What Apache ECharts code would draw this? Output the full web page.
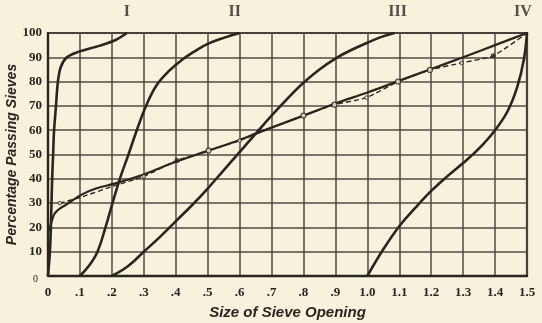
<!DOCTYPE html>
<html>
<head>
<meta charset="utf-8">
<script src="https://cdn.jsdelivr.net/npm/echarts@6/dist/echarts.min.js"></script>
<style>
  html, body { margin: 0; padding: 0; background: #f6f2db; }
  #chart { width: 542px; height: 323px; }
</style>
</head>
<body>
<div id="chart"></div>
<script>
// Sieve grading curves: percentage passing vs. size of sieve opening
const curveI_x = [0, 0.006, 0.009, 0.011, 0.013, 0.016, 0.019, 0.025, 0.031, 0.04, 0.059, 0.09, 0.16, 0.21, 0.247];
const curveI_y = [0, 10, 20, 30, 40, 50, 60, 70, 80, 86, 90, 92, 94.7, 97, 100];

const curveII_x = [0.1, 0.13, 0.155, 0.18, 0.202, 0.225, 0.252, 0.278, 0.307, 0.34, 0.38, 0.42, 0.46, 0.5, 0.55, 0.6];
const curveII_y = [0, 4.5, 10, 20, 30, 40, 50, 60, 70, 78.5, 84.5, 89, 92.5, 95.5, 98, 100];

const curveIII_x = [0.2, 0.25, 0.3, 0.35, 0.4, 0.45, 0.5, 0.55, 0.6, 0.65, 0.7, 0.75, 0.8, 0.85, 0.9, 0.95, 1.0, 1.04, 1.085];
const curveIII_y = [0, 4, 10, 16, 22.5, 29, 36, 43.5, 51, 58.5, 66, 73, 79.5, 85, 89.5, 93, 96, 98.2, 100];

const curveIV_x = [1.0, 1.05, 1.1, 1.15, 1.2, 1.25, 1.3, 1.35, 1.4, 1.44, 1.47, 1.49, 1.5];
const curveIV_y = [0, 11, 20.5, 28, 35, 41, 46.5, 52.5, 60, 68, 78, 89, 100];

// Ideal grading curve (solid) and actual mixture (dashed)
const idealX = [0, 0.006, 0.02, 0.04, 0.059, 0.105, 0.15, 0.208, 0.304, 0.4, 0.503, 0.6, 0.658, 0.8, 0.9, 1.0, 1.099, 1.196, 1.3, 1.4, 1.5];
const idealY = [18, 20, 25.5, 28, 29.5, 33.5, 36, 38, 42, 47, 51.6, 56, 59, 66, 71, 75.5, 80.3, 85, 90, 95, 100];

const mixX = [0.037, 0.1, 0.2, 0.3, 0.404, 0.503, 0.6, 0.7, 0.8, 0.897, 0.997, 1.096, 1.196, 1.295, 1.394, 1.5];
const mixY = [30, 32.3, 36.8, 41, 47.5, 51.6, 55.7, 61, 66, 70.5, 73.4, 80, 84.8, 87.7, 90.6, 100];

// Test points on the mixture curve
const openPtX = [0.503, 0.8, 0.897, 1.096, 1.196];
const openPtY = [51.6, 66, 70.5, 80, 84.8];
const minorPtX = [0.037, 0.3, 0.6, 0.997, 1.295];
const minorPtY = [30, 41, 55.7, 73.4, 87.7];
const solidPtX = [0.404, 1.394];
const solidPtY = [47.5, 90.6];

// Curve numerals above the plot
const numerals = ['I', 'II', 'III', 'IV'];
const numeralX = [0.247, 0.585, 1.095, 1.487];

const xMin = 0, xMax = 1.5, xStep = 0.1;
const yMin = 0, yMax = 100, yStep = 10;

const pairs = (xs, ys) => xs.map((x, i) => [x, ys[i]]);

const ink = '#2b2520';
const gridInk = '#524b45';
const paper = '#f6f2db';
const serif = '"Liberation Serif", "DejaVu Serif", serif';
const sans = '"Liberation Sans", "DejaVu Sans", sans-serif';

function curve(xs, ys, smooth) {
  return {
    type: 'line',
    data: pairs(xs, ys),
    smooth: smooth,
    showSymbol: false,
    lineStyle: { color: ink, width: 2.6 },
    z: 5,
    silent: true
  };
}

function points(xs, ys, size, fill, border) {
  return {
    type: 'scatter',
    data: pairs(xs, ys),
    symbol: 'circle',
    symbolSize: size,
    itemStyle: { color: fill, borderColor: ink, borderWidth: border },
    z: 6,
    silent: true
  };
}

const chart = echarts.init(document.getElementById('chart'), null, { renderer: 'canvas' });

chart.setOption({
  backgroundColor: paper,
  animation: false,
  grid: {
    left: 48, right: 15, top: 33, bottom: 47,
    containLabel: false,
    outerBoundsMode: 'none',
    show: true, borderColor: ink, borderWidth: 2.2
  },
  xAxis: {
    type: 'value',
    min: xMin, max: xMax, interval: xStep,
    name: 'Size of Sieve Opening',
    nameLocation: 'middle',
    nameGap: 29,
    nameMoveOverlap: false,
    nameTextStyle: { fontFamily: sans, fontStyle: 'italic', fontWeight: 'bold', fontSize: 15, color: ink },
    axisLine: { show: true, lineStyle: { color: ink, width: 2.4 } },
    axisTick: { show: false },
    splitLine: { show: true, lineStyle: { color: gridInk, width: 1.5 } },
    axisLabel: {
      margin: 10,
      fontFamily: serif, fontWeight: 'bold', fontSize: 13, color: ink,
      formatter: v => {
        const t = Math.round(v * 10);
        if (t === 0) return '0';
        if (t < 10) return '.' + t;
        return (t / 10).toFixed(1);
      }
    }
  },
  yAxis: {
    type: 'value',
    min: yMin, max: yMax, interval: yStep,
    name: 'Percentage Passing Sieves',
    nameLocation: 'middle',
    nameGap: 29,
    nameMoveOverlap: false,
    nameTextStyle: { fontFamily: sans, fontStyle: 'italic', fontWeight: 'bold', fontSize: 14, color: ink },
    axisLine: { show: true, lineStyle: { color: ink, width: 2.2 } },
    axisTick: { show: false },
    splitLine: { show: true, lineStyle: { color: gridInk, width: 1.5 } },
    axisLabel: {
      margin: 6,
      fontFamily: serif, fontWeight: 'bold', fontSize: 13, color: ink,
      formatter: v => (v === 0 ? '{z|0}' : String(v)),
      rich: { z: { fontFamily: serif, fontSize: 10, fontWeight: 'normal', color: ink, padding: [6, 4, 0, 0] } }
    }
  },
  series: [
    curve(curveI_x, curveI_y, 0.3),
    curve(curveII_x, curveII_y, 0.4),
    curve(curveIII_x, curveIII_y, 0.4),
    curve(curveIV_x, curveIV_y, 0.4),
    {
      type: 'line',
      data: pairs(idealX, idealY),
      smooth: 0.3,
      showSymbol: false,
      lineStyle: { color: ink, width: 2.2 },
      z: 5,
      silent: true
    },
    {
      type: 'line',
      data: pairs(mixX, mixY),
      smooth: 0.2,
      showSymbol: false,
      lineStyle: { color: ink, width: 1.4, type: [5, 3] },
      z: 4,
      silent: true
    },
    points(openPtX, openPtY, 5, paper, 1.2),
    points(minorPtX, minorPtY, 3.5, paper, 1),
    points(solidPtX, solidPtY, 5, ink, 0),
    {
      type: 'scatter',
      data: numeralX.map((x, i) => ({ name: numerals[i], value: [x, yMax] })),
      symbolSize: 0,
      label: {
        show: true,
        position: 'top',
        distance: 13,
        formatter: p => p.name,
        fontFamily: serif, fontWeight: 'bold', fontSize: 16, color: ink
      },
      z: 7,
      silent: true
    }
  ]
});
</script>
</body>
</html>
